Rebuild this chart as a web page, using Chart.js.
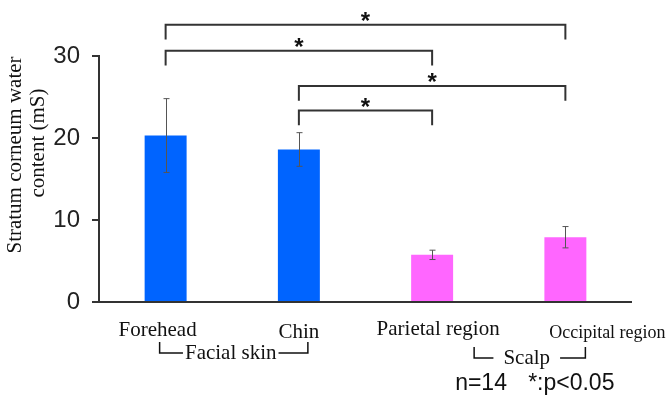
<!DOCTYPE html>
<html>
<head>
<meta charset="utf-8">
<script src="https://cdn.jsdelivr.net/npm/chart.js@4"></script>
<style>
  html, body { margin: 0; padding: 0; background: #fff; }
  #chart { display: block; }
</style>
</head>
<body>
<canvas id="chart" width="670" height="398"></canvas>
<script>
// --- data ---
const categories = ["Forehead", "Chin", "Parietal region", "Occipital region"];
const means = [20.3, 18.6, 5.75, 7.9];
const errors = [4.5, 2.05, 0.57, 1.3];
const barColors = ["#0064ff", "#0064ff", "#ff66ff", "#ff66ff"];
const yTicks = [0, 10, 20, 30];

// significance brackets (index pairs, bracket height in mS)
const sigFrom = [0, 0, 1, 1];
const sigTo = [3, 2, 3, 2];
const sigLevel = [33.8, 30.65, 26.35, 23.35];
const sigLeg = 1.8;

// groups under the axis
const groupNames = ["Facial skin", "Scalp"];
const groupFrom = [0, 2];
const groupTo = [1, 3];

const yTitle = ["Stratum corneum water", "content (mS)"];
const noteN = "n=14";
const noteP = "*:p<0.05";

const SERIF = "'Liberation Serif', 'Times New Roman', serif";
const SANS = "'Liberation Sans', Arial, sans-serif";
const INK = "#333";

// label tweaks (the original labels are not centred on the bars)
const labelDx = [-8, 0, 6, 42];
const labelDy = [34, 36, 33, 36];
const labelSize = [21, 21, 21, 18];
const groupLeftDx = [-6, 42];
const groupRightDx = [9, 20];
const groupDy = [0, 5];
const groupGap = [2, 10];
const titleX = [15, 38];
const titleY = [155, 143];

const extras = {
  id: "extras",
  afterDraw(chart) {
    const { ctx, chartArea } = chart;
    const y = chart.scales.y;
    const bars = chart.getDatasetMeta(0).data;
    const bottom = chartArea.bottom;
    ctx.save();

    // error bars
    ctx.strokeStyle = "#555";
    ctx.lineWidth = 1;
    bars.forEach((b, i) => {
      const x = Math.round(b.x) + 0.5;
      const top = y.getPixelForValue(means[i] + errors[i]);
      const low = y.getPixelForValue(means[i] - errors[i]);
      ctx.beginPath();
      ctx.moveTo(x, top); ctx.lineTo(x, low);
      ctx.moveTo(x - 3, top); ctx.lineTo(x + 3, top);
      ctx.moveTo(x - 3, low); ctx.lineTo(x + 3, low);
      ctx.stroke();
    });

    // significance brackets + stars
    ctx.strokeStyle = INK;
    ctx.lineWidth = 2;
    ctx.fillStyle = "#111";
    ctx.font = "bold 24px " + SANS;
    ctx.textAlign = "center";
    ctx.textBaseline = "alphabetic";
    sigFrom.forEach((f, k) => {
      const x1 = bars[f].x, x2 = bars[sigTo[k]].x;
      const yl = y.getPixelForValue(sigLevel[k]);
      const yb = y.getPixelForValue(sigLevel[k] - sigLeg);
      ctx.beginPath();
      ctx.moveTo(x1, yb); ctx.lineTo(x1, yl); ctx.lineTo(x2, yl); ctx.lineTo(x2, yb);
      ctx.stroke();
      ctx.fillText("*", (x1 + x2) / 2, yl + 4);
    });

    // category labels
    ctx.fillStyle = "#111";
    categories.forEach((c, i) => {
      ctx.font = labelSize[i] + "px " + SERIF;
      ctx.fillText(c, bars[i].x + labelDx[i], bottom + labelDy[i]);
    });

    // group brackets
    ctx.font = "21px " + SERIF;
    ctx.lineWidth = 1.5;
    ctx.strokeStyle = "#111";
    groupNames.forEach((g, k) => {
      const xl = bars[groupFrom[k]].x + groupLeftDx[k];
      const xr = bars[groupTo[k]].x + groupRightDx[k];
      const yt = bottom + 40 + groupDy[k];
      const yh = bottom + 51 + groupDy[k];
      const cx = (xl + xr) / 2 - 3;
      const w = ctx.measureText(g).width;
      ctx.beginPath();
      ctx.moveTo(xl, yt); ctx.lineTo(xl, yh); ctx.lineTo(cx - w / 2 - groupGap[k], yh);
      ctx.moveTo(cx + w / 2 + groupGap[k], yh); ctx.lineTo(xr, yh); ctx.lineTo(xr, yt);
      ctx.stroke();
      ctx.fillText(g, cx, yh + 6);
    });

    // note
    ctx.font = "23px " + SANS;
    ctx.textAlign = "left";
    ctx.fillText(noteN, bars[2].x + 23, bottom + 88);
    ctx.fillText(noteP, bars[2].x + 96, bottom + 88);

    // y title
    ctx.font = "21px " + SERIF;
    ctx.textAlign = "center";
    ctx.textBaseline = "middle";
    yTitle.forEach((t, i) => {
      ctx.save();
      ctx.translate(titleX[i], titleY[i]);
      ctx.rotate(-Math.PI / 2);
      ctx.fillText(t, 0, 0);
      ctx.restore();
    });

    ctx.restore();
  },
};

new Chart(document.getElementById("chart"), {
  type: "bar",
  data: {
    labels: categories,
    datasets: [{
      data: means,
      backgroundColor: barColors,
      borderWidth: 0,
      barPercentage: 0.315,
      categoryPercentage: 1,
    }],
  },
  options: {
    responsive: false,
    animation: false,
    devicePixelRatio: 1,
    layout: { padding: { top: 56, right: 38, bottom: 96, left: 0 } },
    plugins: { legend: { display: false }, tooltip: { enabled: false } },
    scales: {
      x: { display: false },
      y: {
        min: 0,
        max: 30,
        z: 1,
        afterFit: (s) => { s.width = 99; },
        afterBuildTicks: (s) => { s.ticks = yTicks.map((v) => ({ value: v })); },
        ticks: { color: "#222", font: { family: SANS, size: 24 }, padding: 12 },
        grid: {
          color: (c) => (c.tick && c.tick.value === 0 ? INK : "rgba(0,0,0,0)"),
          tickColor: INK,
          tickLength: 7,
          lineWidth: 2,
        },
        border: { display: true, color: INK, width: 2 },
      },
    },
  },
  plugins: [extras],
});
</script>
</body>
</html>
